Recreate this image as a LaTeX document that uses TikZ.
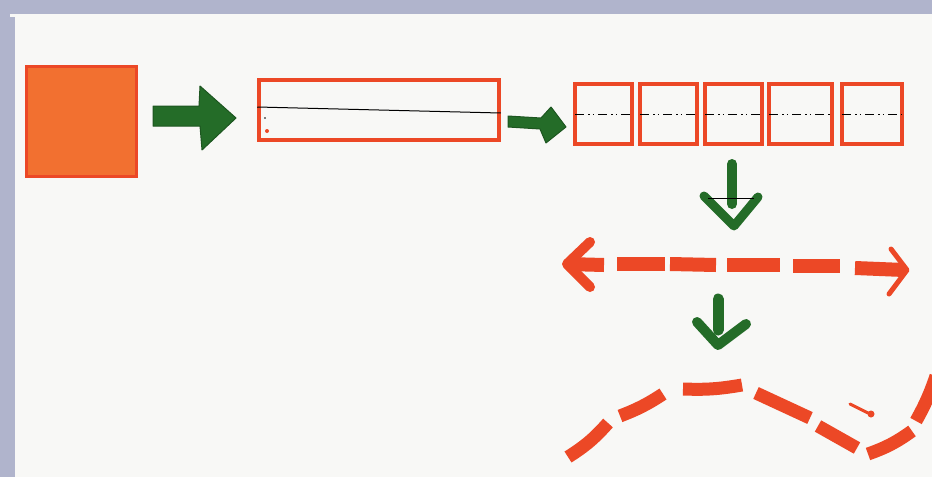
\documentclass[tikz,border=0pt]{standalone}
\usetikzlibrary{calc}
\definecolor{frameblue}{RGB}{176,180,204}
\definecolor{paper}{RGB}{248,248,246}
\definecolor{mkred}{RGB}{236,72,38}
\definecolor{mkorange}{RGB}{242,112,48}
\definecolor{mkgreen}{RGB}{36,108,40}
\tikzset{
  redbox/.style={draw=mkred, line width=3.5, minimum height=60, inner sep=0},
  dashdot/.style={black, line width=0.8, dash pattern=on 9 off 4 on 1.5 off 3 on 1.5 off 4},
  greenblock/.style={fill=mkgreen, draw=mkgreen!80!black, line width=1, line join=round},
  greenstroke/.style={draw=mkgreen, line width=10, line cap=round, line join=round},
  redstroke/.style={draw=mkred, line width=13},
}
\begin{document}
\begin{tikzpicture}[x=1pt,y=-1pt]
\useasboundingbox (0,0) rectangle (932,477);
% frame / paper
\fill[frameblue] (0,0) rectangle (932,477);
\fill[paper] (10,14) rectangle (932,477);
\fill[frameblue] (0,17) rectangle (15,477);

% orange square
\node[draw=mkred, fill=mkorange, line width=3, minimum width=110, minimum height=110, inner sep=0] (sq) at (81,121) {};

% green arrow 1
\path[greenblock] (153,106) -- (199,106) -- (200,86) -- (236,118) -- (202,150) -- (200,126) -- (153,126) -- cycle;

% long rectangle
\node[redbox, minimum width=240] (rect) at (379,110) {};
\draw[black, line width=1] ([yshift=3]rect.west) -- ([yshift=-3]rect.east);
\fill[mkred] (267,131) circle (2);
\fill[black] (265,118) circle (0.8);

% green arrow 2
\path[greenblock] (508,116) -- (541,118) -- (551,107) -- (566,127) -- (546,143) -- (540,129) -- (508,127) -- cycle;

% five boxes
\node[redbox, minimum width=57] (b1) at (603.5,114) {};
\node[redbox, minimum width=57] (b2) at (668.5,114) {};
\node[redbox, minimum width=57] (b3) at (733.5,114) {};
\node[redbox, minimum width=63] (b4) at (800.5,114) {};
\node[redbox, minimum width=60] (b5) at (872,114) {};
\foreach \b in {b1,b2,b3,b4,b5}{
  \draw[dashdot] ([xshift=2]\b.west) -- ([xshift=-2]\b.east);
}

% green down arrow 1
\draw[greenstroke, line width=10] (732,164) -- (732,204);
\draw[greenstroke, line width=9] (704,196) -- (734,226) -- (758,197);
\draw[black, line width=0.6] (708,198) -- (754,198);

% red dashed double arrow
\draw[redstroke, line width=10, line cap=round, line join=round] (590,242) -- (567,264) -- (590,287);
\draw[redstroke, line width=14] (567,264) -- (604,265);
\draw[redstroke, line width=14] (617,264) -- (665,264);
\draw[redstroke, line width=14] (670,264) -- (716,265);
\draw[redstroke, line width=14] (727,265) -- (780,265);
\draw[redstroke, line width=14] (793,266) -- (840,266);
\draw[redstroke, line width=14] (855,268) -- (904,270);
\draw[redstroke, line width=5, line cap=round, line join=round] (891,249) -- (907,270) -- (889,294);

% green down arrow 2
\draw[greenstroke, line width=11] (718,299) -- (718,330);
\draw[greenstroke, line width=10] (697,322) -- (718,345) -- (746,324);

% red dashed curve
\draw[redstroke] (568,457) to[bend right=8] (608,423);
\draw[redstroke] (620,416) to[bend right=6] (663,394);
\draw[redstroke] (683,389) to[bend right=6] (742,385);
\draw[redstroke] (756,393) -- (810,418);
\draw[redstroke] (818,426) -- (857,448);
\draw[redstroke] (868,454) to[bend right=8] (912,431);
\draw[redstroke] (916,421) to[bend right=5] (936,376);
\draw[mkred, line width=3, line cap=round] (850,404) -- (868,413);
\fill[mkred] (871,414) circle (3.5);
\end{tikzpicture}
\end{document}
